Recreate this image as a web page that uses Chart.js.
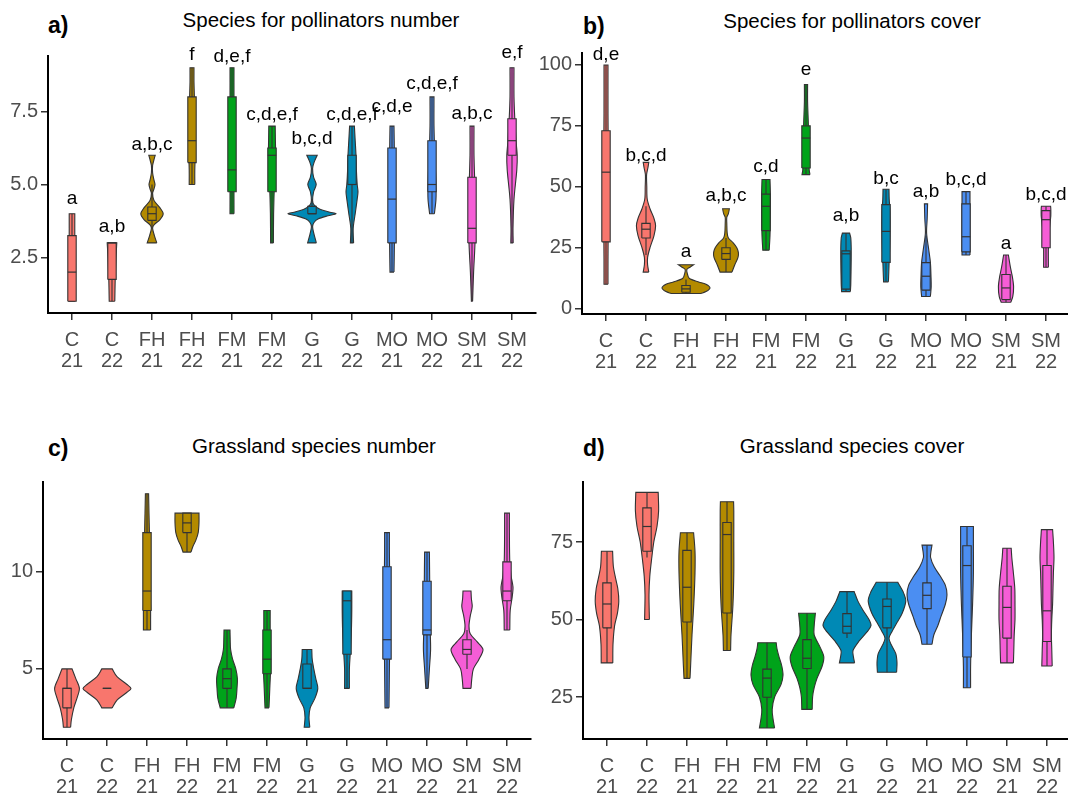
<!DOCTYPE html>
<html><head><meta charset="utf-8">
<script src="https://cdn.jsdelivr.net/npm/chart.js@4.4.1/dist/chart.umd.min.js"></script>
<style>
html,body{margin:0;padding:0;background:#fff;overflow:hidden;width:1068px;height:801px;position:relative;}
canvas{position:absolute;}
.t{position:absolute;font-family:"Liberation Sans",Arial,sans-serif;color:#000;white-space:nowrap;}
.title{font-size:20.5px;line-height:24px;transform:translateX(-50%);}
.tag{font-size:23px;font-weight:bold;line-height:26px;}
</style></head><body>
<div class="t tag" style="left:48px;top:12px">a)</div>
<div class="t tag" style="left:583px;top:13px">b)</div>
<div class="t tag" style="left:48px;top:435px">c)</div>
<div class="t tag" style="left:583px;top:435px">d)</div>
<div class="t title" style="left:321px;top:8px">Species for pollinators number</div>
<div class="t title" style="left:852px;top:9px">Species for pollinators cover</div>
<div class="t title" style="left:314px;top:434px">Grassland species number</div>
<div class="t title" style="left:852px;top:434px">Grassland species cover</div>
<canvas id="ca" width="540" height="350" style="left:0px;top:30px"></canvas>
<canvas id="cb" width="540" height="350" style="left:534px;top:30px"></canvas>
<canvas id="cc" width="540" height="346" style="left:0px;top:455px"></canvas>
<canvas id="cd" width="540" height="346" style="left:534px;top:455px"></canvas>
<script>
const FONT = '"Liberation Sans", Arial, sans-serif';
// ---------- categories ----------
const categories = [["C","21"],["C","22"],["FH","21"],["FH","22"],["FM","21"],["FM","22"],["G","21"],["G","22"],["MO","21"],["MO","22"],["SM","21"],["SM","22"]];
const siteColors = ["#F8766D","#B38A00","#00A31A","#0089B5","#4B8EF2","#F55DD6"];

// ---------- panel a: Species for pollinators number ----------
const yTicksA = [2.5, 5.0, 7.5];
const yLabelsA = ["2.5","5.0","7.5"];
const minA = [1, 1, 3, 5, 4, 3, 3, 3, 2, 4, 1, 3];
const loA  = [1, 1, 3.5, 5, 4, 3, 4, 3, 2, 4, 1, 3];
const q1A  = [1, 1.75, 3.77, 5.75, 4.75, 4.75, 4, 5, 3, 4.75, 3, 6];
const medA = [2, 3, 4, 6.5, 5.5, 6, 4, 5, 4.5, 5, 3.5, 6.5];
const q3A  = [3.25, 3, 4.23, 8, 8, 6.25, 4.25, 6, 6.25, 6.5, 5.25, 7.25];
const hiA  = [4, 3, 5, 9, 9, 7, 4.5, 7, 7, 8, 7, 9];
const maxA = [4, 3, 6, 9, 9, 7, 6, 7, 7, 8, 7, 9];
const lettersA = ["a","a,b","a,b,c","f","d,e,f","c,d,e,f","b,c,d","c,d,e,f","c,d,e","c,d,e,f","a,b,c","e,f"];
const letterYA = [4.22, 3.27, 6.09, 9.17, 9.09, 7.12, 6.27, 7.12, 7.38, 8.18, 7.15, 9.24];
const violinA = [
  [[1,0.075],[2,0.075],[3,0.07],[4,0.07]],
  [[1,0.07],[1.75,0.08],[2.5,0.1],[3,0.12]],
  [[3,0.12],[3.25,0.06],[3.5,0.015],[3.62,0.05],[3.8,0.2],[4,0.28],[4.2,0.2],[4.45,0.05],[4.7,0.015],[4.85,0.05],[5,0.075],[5.15,0.05],[5.4,0.015],[5.65,0.015],[5.85,0.05],[6,0.08]],
  [[5,0.07],[5.5,0.07],[6,0.08],[7,0.08],[8,0.06],[8.5,0.05],[9,0.05]],
  [[4,0.05],[5,0.05],[6,0.06],[7,0.06],[8,0.05],[9,0.05]],
  [[3,0.035],[4,0.04],[5,0.06],[6,0.09],[6.5,0.085],[7,0.08]],
  [[3,0.11],[3.3,0.05],[3.55,0.015],[3.7,0.05],[3.82,0.15],[3.93,0.4],[4,0.6],[4.05,0.45],[4.15,0.2],[4.3,0.05],[4.45,0.015],[4.75,0.04],[5,0.105],[5.25,0.04],[5.55,0.015],[5.75,0.05],[6,0.13]],
  [[3,0.04],[3.5,0.03],[4,0.08],[4.5,0.13],[4.75,0.15],[5,0.13],[5.5,0.11],[6,0.1],[6.5,0.08],[7,0.06]],
  [[2,0.05],[3,0.06],[4,0.06],[5,0.06],[6,0.06],[7,0.05]],
  [[4,0.06],[4.5,0.1],[5,0.1],[6,0.07],[7,0.05],[8,0.05]],
  [[1,0.015],[2,0.04],[3,0.075],[4,0.08],[5,0.07],[6,0.05],[7,0.05]],
  [[3,0.03],[3.5,0.025],[4.5,0.05],[5.5,0.12],[6,0.13],[6.5,0.1],[7.25,0.07],[8,0.05],[9,0.05]]
];

// ---------- panel b: Species for pollinators cover ----------
const yTicksB = [0, 25, 50, 75, 100];
const yLabelsB = ["0","25","50","75","100"];
const minB = [10, 15, 6.2, 15, 24, 55, 7, 11, 5, 22, 2.6, 17];
const loB  = [10, 22, 6.2, 15, 24, 55, 7, 11, 5, 22, 2.6, 17];
const q1B  = [27.4, 29, 6.7, 20.2, 32, 57.7, 8, 19, 7.6, 23.3, 3.7, 25];
const medB = [56, 32.6, 8.1, 22.6, 42, 70, 22.5, 31.7, 13.3, 29.5, 8.5, 36.5];
const q3B  = [73, 35, 9.5, 25, 47, 75, 23.7, 42.7, 18.9, 43, 14, 40.2];
const hiB  = [100, 42, 12, 29, 53, 92, 31, 49, 30, 48, 22, 42];
const maxB = [100, 60, 18, 41, 53, 92, 31, 49, 43, 48, 22, 42];
const lettersB = ["d,e","b,c,d","a","a,b,c","c,d","e","a,b","b,c","a,b","b,c,d","a","b,c,d"];
const letterYB = [100.8, 59.5, 19.9, 42.9, 55, 94.5, 34.7, 50, 44.5, 49.3, 23.3, 43.4];
const violinB = [
  [[10,0.05],[20,0.05],[50,0.06],[80,0.05],[100,0.05]],
  [[15,0.07],[18,0.04],[21,0.04],[25,0.1],[30,0.2],[34,0.24],[37,0.2],[41,0.1],[45,0.03],[50,0.02],[55,0.015],[58,0.05],[60,0.07]],
  [[6.2,0.37],[7,0.5],[8.5,0.6],[10,0.5],[11,0.3],[12.5,0.08],[14,0.04],[16,0.02],[17,0.1],[18,0.19]],
  [[15,0.15],[18,0.22],[21,0.3],[23,0.31],[25,0.27],[27,0.18],[29,0.06],[31,0.03],[35,0.02],[37.5,0.02],[39,0.06],[41,0.085]],
  [[24,0.08],[30,0.1],[40,0.11],[47,0.11],[53,0.1]],
  [[55,0.1],[57,0.08],[65,0.07],[75,0.06],[85,0.04],[92,0.04]],
  [[7,0.11],[10,0.12],[20,0.13],[25,0.13],[29,0.12],[31,0.09]],
  [[11,0.06],[15,0.07],[20,0.08],[30,0.1],[40,0.1],[45,0.08],[49,0.075]],
  [[5,0.11],[9,0.13],[13.3,0.125],[19,0.11],[24,0.07],[31,0.015],[37,0.03],[43,0.04]],
  [[22,0.1],[25,0.1],[35,0.1],[45,0.1],[48,0.1]],
  [[2.6,0.12],[5,0.17],[9,0.19],[13,0.16],[17,0.11],[22,0.06]],
  [[17,0.06],[25,0.06],[32,0.08],[38,0.12],[41,0.12],[42,0.115]]
];

// ---------- panel c: Grassland species number ----------
const yTicksC = [5, 10];
const yLabelsC = ["5","10"];
const minC = [2, 3, 7, 11, 3, 3, 2, 4, 3, 4, 4, 7];
const loC  = [2, 4, 7, 11, 3, 3, 4, 4, 3, 4, 5, 7];
const q1C  = [3, 4, 8, 12, 4, 4.75, 4, 5.75, 5.5, 6.75, 5.75, 8.5];
const medC = [4, 4, 9, 12.5, 4.5, 5.5, 4, 8.5, 6.5, 7, 6, 9];
const q3C  = [4, 4, 12, 13, 5, 7, 5.25, 9, 10.25, 9.5, 6.5, 10.5];
const hiC  = [5, 4, 14, 13, 7, 8, 6, 9, 12, 11, 7, 13];
const maxC = [5, 5, 14, 13, 7, 8, 6, 9, 12, 11, 9, 13];
const violinC = [
  [[2,0.09],[2.4,0.11],[3,0.17],[3.5,0.25],[4,0.31],[4.5,0.22],[5,0.125]],
  [[3,0.13],[3.4,0.25],[3.8,0.5],[4,0.6],[4.2,0.5],[4.6,0.25],[5,0.13]],
  [[7,0.09],[7.5,0.09],[8,0.09],[10,0.07],[12,0.06],[13,0.05],[14,0.04]],
  [[11,0.1],[11.3,0.15],[11.6,0.22],[12,0.28],[12.5,0.3],[13,0.3]],
  [[3,0.17],[3.5,0.23],[4,0.25],[4.5,0.26],[5,0.22],[5.5,0.14],[6,0.09],[6.5,0.08],[7,0.075]],
  [[3,0.05],[4,0.07],[5,0.09],[6,0.09],[7,0.08],[8,0.08]],
  [[2,0.07],[2.5,0.05],[3,0.08],[3.5,0.2],[4,0.27],[4.5,0.22],[5,0.17],[5.5,0.13],[6,0.12]],
  [[4,0.06],[5,0.06],[5.75,0.08],[7,0.11],[8,0.12],[9,0.12]],
  [[3,0.05],[5,0.06],[7,0.07],[9,0.07],[11,0.06],[12,0.06]],
  [[4,0.03],[5,0.06],[6,0.09],[7,0.08],[9,0.07],[11,0.06]],
  [[4,0.1],[4.5,0.12],[5,0.16],[5.5,0.3],[6,0.4],[6.4,0.25],[6.8,0.08],[7.2,0.05],[7.7,0.08],[8.2,0.13],[8.6,0.11],[9,0.1]],
  [[7,0.07],[8,0.08],[8.7,0.13],[9.2,0.15],[9.8,0.1],[10.5,0.07],[12,0.06],[13,0.06]]
];

// ---------- panel d: Grassland species cover ----------
const yTicksD = [25, 50, 75];
const yLabelsD = ["25","50","75"];
const minD = [36, 50, 31, 40, 15, 21, 36, 33, 42, 28, 36, 35];
const loD  = [36, 70, 31, 40, 15, 21, 44, 33, 42, 28, 36, 35];
const q1D  = [47.3, 72, 49.2, 52.1, 24.9, 34.2, 45.6, 47.3, 53.5, 37.9, 44, 42.9];
const medD = [55, 80, 60.4, 77.4, 31.1, 37.5, 47.8, 54.2, 57.8, 67.4, 53.9, 52.8];
const q3D  = [61.8, 86, 72.3, 81.3, 34, 43.5, 51.9, 56.6, 61.8, 73.8, 60.7, 67.4];
const hiD  = [72, 91, 78, 88, 42.5, 52, 59, 62, 74, 80, 73, 79];
const maxD = [72, 91, 78, 88, 42.5, 52, 59, 62, 74, 80, 73, 79];
const violinD = [
  [[36,0.145],[42,0.15],[48,0.19],[52,0.26],[56,0.295],[60,0.27],[63,0.22],[67,0.16],[72,0.14]],
  [[50,0.06],[58,0.05],[64,0.07],[70,0.12],[75,0.17],[80,0.25],[85,0.29],[91,0.28]],
  [[31,0.075],[35,0.09],[45,0.125],[55,0.17],[65,0.2],[72,0.2],[78,0.165]],
  [[40,0.09],[45,0.1],[55,0.15],[65,0.17],[75,0.17],[85,0.17],[88,0.165]],
  [[15,0.19],[18,0.15],[21,0.13],[25,0.19],[29,0.35],[32,0.4],[35,0.37],[38,0.3],[40.5,0.25],[42.5,0.23]],
  [[21,0.13],[25,0.14],[28,0.18],[31,0.25],[35,0.38],[38,0.42],[41,0.33],[45,0.18],[48,0.18],[52,0.21]],
  [[36,0.19],[38,0.16],[40,0.15],[43,0.3],[46,0.5],[48,0.6],[50,0.55],[53,0.4],[56,0.27],[59,0.18]],
  [[33,0.24],[36,0.25],[39,0.22],[42,0.1],[44,0.05],[46,0.12],[49,0.25],[52,0.38],[56,0.47],[59,0.4],[62,0.27]],
  [[42,0.125],[45,0.17],[48,0.27],[51,0.35],[55,0.46],[58,0.5],[61,0.46],[64,0.33],[67,0.18],[70,0.09],[72,0.1],[74,0.125]],
  [[28,0.09],[35,0.09],[45,0.11],[55,0.14],[65,0.16],[75,0.16],[80,0.16]],
  [[36,0.16],[40,0.17],[45,0.18],[50,0.2],[55,0.2],[60,0.195],[65,0.16],[70,0.12],[73,0.105]],
  [[35,0.13],[40,0.12],[45,0.11],[50,0.12],[55,0.14],[60,0.15],[65,0.16],[70,0.175],[75,0.16],[79,0.14]]
];

// ---------- rendering ----------
const BOXW = 0.105;
const LINE = '#333333';

function violinOutline(x, prof) {
  // right side upward, flat top, left side downward, flat bottom; corners doubled so the curve stays inside min/max
  const R = prof.map(([y, w]) => ({x: x + w, y}));
  const L = prof.slice().reverse().map(([y, w]) => ({x: x - w, y}));
  const pts = [];
  R.forEach(p => pts.push(p));
  pts.push(Object.assign({}, R[R.length - 1]));
  pts.push(L[0]);
  pts.push(Object.assign({}, L[0]));
  L.slice(1).forEach(p => pts.push(p));
  pts.push(Object.assign({}, L[L.length - 1]));
  pts.push(Object.assign({}, R[0]));
  return pts;
}

function buildDatasets(p) {
  const ds = [];
  const base = {showLine:true, pointRadius:0, pointHoverRadius:0, borderColor:LINE};
  for (let i = 0; i < categories.length; i++) {
    const x = i + 1;
    const col = siteColors[Math.floor(i / 2)];
    ds.push(Object.assign({}, base, {data: violinOutline(x, p.violin[i]), fill: 'shape', backgroundColor: col, borderWidth: 1.1, tension: 0.3, order: 4}));
    const b = BOXW;
    ds.push(Object.assign({}, base, {data: [{x:x-b,y:p.q1[i]},{x:x+b,y:p.q1[i]},{x:x+b,y:p.q3[i]},{x:x-b,y:p.q3[i]},{x:x-b,y:p.q1[i]}],
      fill: 'shape', backgroundColor: col, borderWidth: 1.1, tension: 0, order: 3}));
    ds.push(Object.assign({}, base, {data: [{x:x-b,y:p.med[i]},{x:x+b,y:p.med[i]}], fill:false, borderWidth: 1.2, tension: 0, order: 2}));
    if (p.hi[i] > p.q3[i]) ds.push(Object.assign({}, base, {data: [{x,y:p.q3[i]},{x,y:p.hi[i]}], fill:false, borderWidth: 1.1, tension: 0, order: 2}));
    if (p.lo[i] < p.q1[i]) ds.push(Object.assign({}, base, {data: [{x,y:p.q1[i]},{x,y:p.lo[i]}], fill:false, borderWidth: 1.1, tension: 0, order: 2}));
  }
  return ds;
}

function makeChart(p) {
  const cv = document.getElementById(p.id);
  const cl = parseFloat(cv.style.left), ct = parseFloat(cv.style.top);
  const padTop = p.area.top - ct;
  const yW = p.area.left - cl;
  const padRight = cl + cv.width - p.area.right;
  const xH = ct + cv.height - p.area.bottom;
  const letterPlugin = {
    id: 'letters' + p.id,
    afterDatasetsDraw(chart) {
      if (!p.letters) return;
      const {ctx} = chart, xs = chart.scales.x, ys = chart.scales.y;
      ctx.save();
      ctx.font = '19px ' + FONT;
      ctx.fillStyle = '#000';
      ctx.textAlign = 'center';
      ctx.textBaseline = 'alphabetic';
      p.letters.forEach((t, i) => ctx.fillText(t, xs.getPixelForValue(i + 1), ys.getPixelForValue(p.letterY[i]) - 3));
      ctx.restore();
    }
  };
  const axisCommon = {
    grid: {display: true, drawOnChartArea: false, drawTicks: true, tickLength: 7, color: LINE, lineWidth: 1.5},
    border: {display: true, color: '#000', width: 2}
  };
  return new Chart(cv, {
    type: 'scatter',
    data: {datasets: buildDatasets(p)},
    plugins: [letterPlugin],
    options: {
      responsive: false, animation: false, events: [],
      layout: {padding: {top: padTop, right: padRight, left: 0, bottom: 0}},
      plugins: {legend: {display: false}, tooltip: {enabled: false}, title: {display: false}},
      scales: {
        x: Object.assign({}, axisCommon, {
          type: 'linear', min: 0.4, max: 12.6,
          afterBuildTicks: s => { s.ticks = categories.map((c, i) => ({value: i + 1})); },
          afterFit: s => { s.height = xH; },
          ticks: {autoSkip: false, maxRotation: 0, minRotation: 0, padding: 10, color: '#4d4d4d',
            font: {family: FONT, size: 20, lineHeight: 1.05},
            callback: (v) => categories[Math.round(v) - 1]}
        }),
        y: Object.assign({}, axisCommon, {
          type: 'linear', min: p.ymin, max: p.ymax,
          afterBuildTicks: s => { s.ticks = p.yt.map(v => ({value: v})); },
          afterFit: s => { s.width = yW; },
          ticks: {padding: 3, color: '#4d4d4d', font: {family: FONT, size: 20},
            callback: (v, i) => p.yl[i]}
        })
      }
    }
  });
}

const panels = [
  {id:'ca', area:{left:48, top:56, right:536, bottom:313}, ymin:0.6, ymax:9.4, yt:yTicksA, yl:yLabelsA,
   lo:loA, q1:q1A, med:medA, q3:q3A, hi:hiA, max:maxA, min:minA, violin:violinA, letters:lettersA, letterY:letterYA},
  {id:'cb', area:{left:582, top:53, right:1070, bottom:314}, ymin:-2.2, ymax:104.9, yt:yTicksB, yl:yLabelsB,
   lo:loB, q1:q1B, med:medB, q3:q3B, hi:hiB, max:maxB, min:minB, violin:violinB, letters:lettersB, letterY:letterYB},
  {id:'cc', area:{left:43, top:482, right:531, bottom:739}, ymin:1.4, ymax:14.6, yt:yTicksC, yl:yLabelsC,
   lo:loC, q1:q1C, med:medC, q3:q3C, hi:hiC, max:maxC, min:minC, violin:violinC, letters:null, letterY:null},
  {id:'cd', area:{left:583, top:482, right:1071, bottom:739}, ymin:11.45, ymax:94.35, yt:yTicksD, yl:yLabelsD,
   lo:loD, q1:q1D, med:medD, q3:q3D, hi:hiD, max:maxD, min:minD, violin:violinD, letters:null, letterY:null}
];
panels.forEach(makeChart);
</script>
</body></html>
